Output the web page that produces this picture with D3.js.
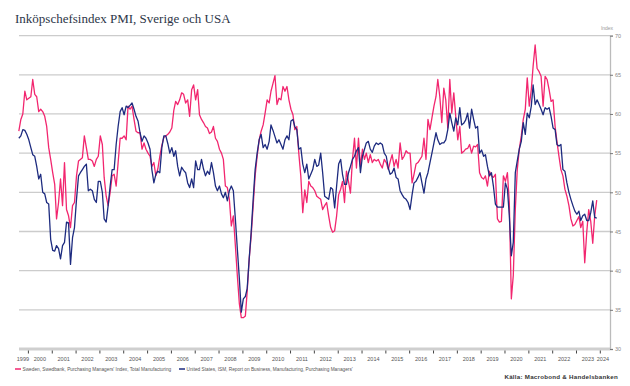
<!DOCTYPE html>
<html><head><meta charset="utf-8">
<script src="https://cdn.jsdelivr.net/npm/d3@7"></script>
<style>body{margin:0;background:#fff}svg{display:block}</style>
</head><body>
<svg id="c" width="630" height="386"></svg>
<script>
const title = "Inköpschefsindex PMI, Sverige och USA";
const firstYear = 1999, firstMonth = 7; // Aug 1999, monthly
const sweden = [
57.8,59.3,60.0,62.9,61.8,
62.0,62.2,64.4,62.5,62.2,60.3,60.6,60.3,59.7,58.4,55.7,54.2,
52.5,51.0,46.6,48.7,51.7,48.3,53.8,47.8,47.0,45.5,48.3,48.7,
52.1,54.0,54.2,54.4,57.2,55.7,54.2,54.2,54.0,53.3,54.2,54.6,
57.2,56.1,51.9,49.5,48.3,50.0,52.1,52.3,50.8,53.8,56.9,56.9,
57.2,56.7,61.0,60.6,61.0,59.3,57.8,57.6,57.6,55.5,56.3,55.5,
55.0,54.6,53.3,53.8,52.1,53.0,54.6,56.0,57.0,57.2,57.4,57.7,
58.2,60.5,61.6,61.2,61.8,62.7,62.5,61.4,61.8,59.7,63.1,63.7,
61.8,63.1,59.9,59.3,58.9,58.4,58.2,57.5,57.7,58.4,56.9,56.5,
55.5,55.0,54.2,50.8,50.6,49.1,45.7,47.0,43.2,39.4,35.8,34.0,
34.0,34.2,37.3,41.5,44.4,48.3,52.1,54.6,56.7,57.8,58.6,60.1,
61.8,61.4,62.9,63.9,64.9,61.2,62.0,61.8,63.5,62.9,63.5,61.8,
60.6,59.9,58.0,58.4,55.0,52.1,47.4,50.3,48.7,51.4,50.8,50.6,
50.2,49.5,49.3,49.1,47.8,48.3,48.7,47.0,45.5,44.9,45.1,47.0,
49.7,50.4,51.4,48.7,52.7,51.4,49.9,54.2,56.9,53.1,56.9,53.3,
55.5,54.2,55.0,53.8,54.8,53.8,54.2,54.0,54.2,53.6,53.1,54.2,
53.8,52.9,53.9,54.8,53.3,54.2,53.1,56.3,54.2,54.6,55.3,55.0,
55.0,51.2,52.3,53.6,53.8,54.2,54.6,56.9,54.2,59.3,58.0,59.5,
61.0,62.2,64.4,62.2,58.9,63.3,61.8,58.2,64.4,60.1,62.7,59.7,
56.7,58.4,55.0,55.2,55.5,55.6,56.1,55.0,55.9,55.8,56.1,52.5,
51.9,51.7,52.1,50.8,52.7,52.1,51.9,52.3,46.6,46.2,46.3,52.1,
51.4,52.5,48.7,36.4,39.4,47.8,52.9,55.5,57.2,59.3,60.6,64.6,
61.0,63.1,66.1,68.8,65.8,65.4,64.8,61.0,64.8,64.4,63.1,61.6,
61.8,58.4,56.5,54.6,52.9,52.1,50.4,49.5,48.3,46.6,45.7,45.9,
46.4,46.9,45.5,46.3,41.0,44.9,47.8,46.3,43.5,47.0,49.0
];
const usa = [
56.9,57.2,58.0,57.9,57.4,
56.7,55.7,54.8,54.6,53.3,51.7,52.3,50.0,49.8,48.7,48.5,44.0,
42.6,42.5,43.2,42.8,41.5,43.2,43.6,46.2,46.1,40.8,44.2,45.5,
49.1,52.1,52.5,52.9,53.3,53.6,50.2,50.4,50.2,49.1,48.7,51.4,
51.4,50.0,46.6,46.2,48.3,50.8,52.9,52.9,56.1,58.4,60.3,60.8,
59.9,61.0,60.8,61.1,61.4,60.6,59.7,59.1,57.6,56.5,57.2,56.9,
56.3,55.5,52.9,51.2,52.3,52.7,52.5,55.7,57.2,57.2,56.2,55.0,
55.7,54.6,55.3,53.3,52.1,53.2,52.8,52.5,51.2,50.6,51.7,50.6,
54.0,52.9,52.9,54.2,53.0,52.1,52.7,52.3,53.8,52.5,50.8,50.2,
50.8,49.8,49.3,50.0,48.9,50.2,50.8,50.2,46.6,42.8,39.0,34.7,
36.4,36.7,37.7,41.5,44.9,49.1,52.9,55.0,56.7,57.4,55.7,56.1,
55.5,56.5,58.6,57.9,57.1,56.3,56.7,56.1,55.5,56.7,57.2,56.7,
59.1,59.3,58.4,58.0,55.5,55.7,53.6,52.5,53.6,51.7,52.3,52.9,
54.2,53.3,53.5,55.0,52.5,49.5,49.3,49.1,50.6,50.4,48.0,50.8,
53.6,54.2,52.3,51.0,51.0,52.5,53.3,54.2,54.6,55.3,55.7,52.5,
54.6,55.5,56.3,56.5,55.5,55.1,55.9,56.3,56.1,56.3,56.1,55.0,
54.6,53.1,52.3,52.5,53.1,51.9,51.7,50.2,49.7,49.3,49.1,48.7,
47.8,49.7,51.2,51.4,51.9,52.5,51.2,49.9,51.7,52.5,53.8,55.0,
56.3,57.6,56.7,56.1,56.3,56.3,56.7,58.0,60.1,58.9,57.8,59.5,
58.6,60.8,58.6,58.8,59.2,60.1,58.2,60.6,59.3,58.2,58.4,55.0,
55.4,54.6,54.8,53.3,52.1,52.5,50.8,48.5,48.1,48.1,48.1,48.1,
51.2,50.4,47.0,41.9,43.6,52.5,54.0,55.5,56.5,58.9,57.4,60.1,
59.5,61.0,63.7,61.2,61.8,61.2,60.6,59.9,60.8,60.6,60.8,59.7,
58.2,58.0,56.1,55.9,56.1,52.9,52.7,51.2,50.0,49.1,48.3,47.6,
47.2,47.6,46.4,47.0,47.2,46.4,46.4,47.4,48.9,46.8,46.7
];
const yTicks = [30,35,40,45,50,55,60,65,70];
const yearLabels = d3.range(1999, 2025);
const seriesNames = [
  "Sweden, Swedbank, Purchasing Managers' Index, Total Manufacturing",
  "United States, ISM, Report on Business, Manufacturing, Purchasing Managers'"
];
const seriesColors = ["#f2266f", "#1d2b7f"];
const unitLabel = "Index";
const sourceText = "Källa: Macrobond & Handelsbanken";

const svg = d3.select("#c");
const x = d3.scaleTime().domain([new Date(2000,0,1), new Date(2024,0,1)]).range([27.9, 599.8]);
const y = d3.scaleLinear().domain([30,70]).range([349, 35.6]);
const plotLeft = 19, plotRight = 610, visStart = 18, visEnd = 606;

// title
svg.append("text").attr("x",15).attr("y",23)
  .attr("font-family","'Liberation Serif', 'DejaVu Serif', serif")
  .attr("font-size",13).attr("fill","#2c3547").text(title);

// gridlines
svg.append("g").selectAll("line").data(yTicks.filter(v=>v>30)).join("line")
  .attr("x1",plotLeft).attr("x2",plotRight)
  .attr("y1",d=>y(d)).attr("y2",d=>y(d))
  .attr("stroke","#cccccc").attr("stroke-width",1.3);
svg.append("line").attr("x1",plotLeft).attr("x2",plotRight)
  .attr("y1",y(30)).attr("y2",y(30))
  .attr("stroke","#cfcfcf").attr("stroke-width",3);

// right axis
const ra = svg.append("g").attr("transform",`translate(${plotRight},0)`)
  .call(d3.axisRight(y).tickValues(yTicks).tickSize(3).tickPadding(2));
ra.select(".domain").attr("stroke","#bbbbbb").attr("stroke-width",1.3);
ra.selectAll(".tick line").attr("stroke","#777");
ra.selectAll("text").attr("font-family","'Liberation Sans', Arial, sans-serif")
  .attr("font-size",5.5).attr("fill","#888");
svg.append("text").attr("x",607).attr("y",30).attr("text-anchor","middle")
  .attr("font-family","'Liberation Sans', Arial, sans-serif")
  .attr("font-size",5).attr("fill","#999").text(unitLabel);

// bottom axis ticks at year boundaries
const bounds = d3.range(2000, 2025).map(yy => new Date(yy,0,1));
const ba = svg.append("g").attr("transform",`translate(0,${y(30)+1.5})`)
  .call(d3.axisBottom(x).tickValues(bounds).tickSize(3).tickFormat(""));
ba.select(".domain").remove();
ba.selectAll(".tick line").attr("stroke","#444");

// year labels centred in visible year segment
svg.append("g").selectAll("text").data(yearLabels).join("text")
  .attr("x", yy => {
    const a = Math.max(visStart, x(new Date(yy,0,1)));
    const b = Math.min(visEnd, x(new Date(yy+1,0,1)));
    return (a+b)/2;
  })
  .attr("y", 360.5).attr("text-anchor","middle")
  .attr("font-family","'Liberation Sans', Arial, sans-serif")
  .attr("font-size",5.5).attr("fill","#555").text(d=>d);

// series
function toPoints(arr){
  return arr.map((v,i)=>({date:new Date(firstYear, firstMonth+i, 15), v}));
}
const line = d3.line().x(d=>x(d.date)).y(d=>y(d.v));
[sweden, usa].forEach((arr,i)=>{
  svg.append("path").datum(toPoints(arr))
    .attr("d",line).attr("fill","none")
    .attr("stroke",seriesColors[i]).attr("stroke-width",1.3)
    .attr("stroke-linejoin","round");
});

// legend
const lg = svg.append("g").attr("font-family","'Liberation Sans', Arial, sans-serif")
  .attr("font-size",4.75).attr("fill","#555");
const legX = [15, 179];
seriesNames.forEach((n,i)=>{
  lg.append("line").attr("x1",legX[i]).attr("x2",legX[i]+6)
    .attr("y1",369).attr("y2",369).attr("stroke",seriesColors[i]).attr("stroke-width",1.5);
  lg.append("text").attr("x",legX[i]+7.5).attr("y",370.7).text(n);
});

// source
svg.append("text").attr("x",618).attr("y",378.5).attr("text-anchor","end")
  .attr("font-family","'Liberation Sans', Arial, sans-serif")
  .attr("font-size",6.2).attr("font-weight","bold").attr("letter-spacing",0.25)
  .attr("fill","#333").text(sourceText);
</script>
</body></html>
